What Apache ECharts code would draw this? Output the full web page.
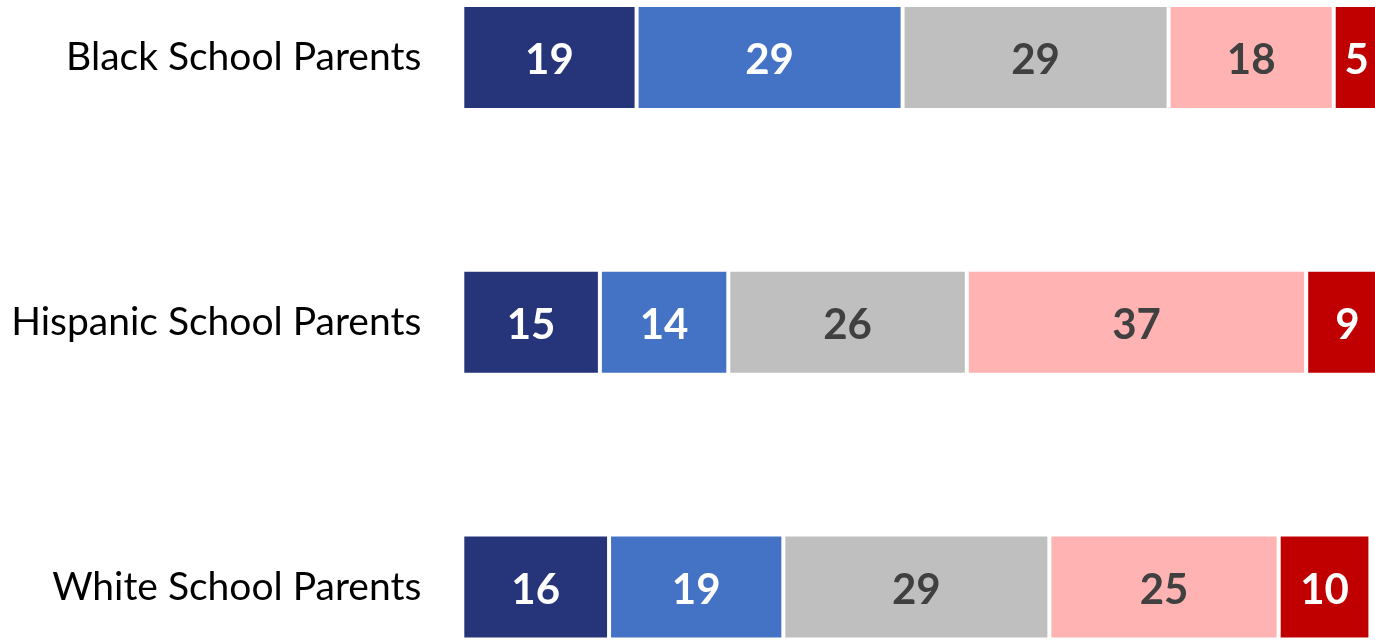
<!DOCTYPE html>
<html>
<head>
<meta charset="utf-8">
<script src="https://cdn.jsdelivr.net/npm/echarts@6/dist/echarts.min.js"></script>
<style>
  html, body { margin: 0; padding: 0; background: #ffffff; }
  #chart { width: 1375px; height: 643px; }
</style>
</head>
<body>
<div id="chart"></div>
<script>
const categories = ["Black School Parents", "Hispanic School Parents", "White School Parents"];
const seg1 = [19, 15, 16];
const seg2 = [29, 14, 19];
const seg3 = [29, 26, 29];
const seg4 = [18, 37, 25];
const seg5 = [5, 9, 10];

const segments = [seg1, seg2, seg3, seg4, seg5];
const colors = ["#263479", "#4472C4", "#BFBFBF", "#FFB3B3", "#C00000"];
const labelColors = ["#ffffff", "#ffffff", "#404040", "#404040", "#ffffff"];

const chart = echarts.init(document.getElementById('chart'));
chart.setOption({
  animation: false,
  backgroundColor: '#ffffff',
  grid: { left: 462.3, right: 0, top: 57.5, bottom: 56, containLabel: false },
  xAxis: {
    type: 'value', min: 0, max: 99.5, show: false
  },
  yAxis: {
    type: 'category', data: categories, inverse: true, boundaryGap: false,
    axisLine: { show: false }, axisTick: { show: false }, splitLine: { show: false },
    axisLabel: {
      fontFamily: 'Lato', fontSize: 39, color: '#000000', margin: 41
    }
  },
  series: segments.map((d, i) => ({
    type: 'bar', stack: 'total', data: d, barWidth: 105, clip: false,
    itemStyle: { color: colors[i], borderColor: '#ffffff', borderWidth: 2 },
    label: {
      show: true, position: 'inside', offset: [0, 3],
      fontFamily: 'Lato', fontWeight: 'bold', fontSize: 42, color: labelColors[i]
    }
  }))
});
</script>
</body>
</html>
